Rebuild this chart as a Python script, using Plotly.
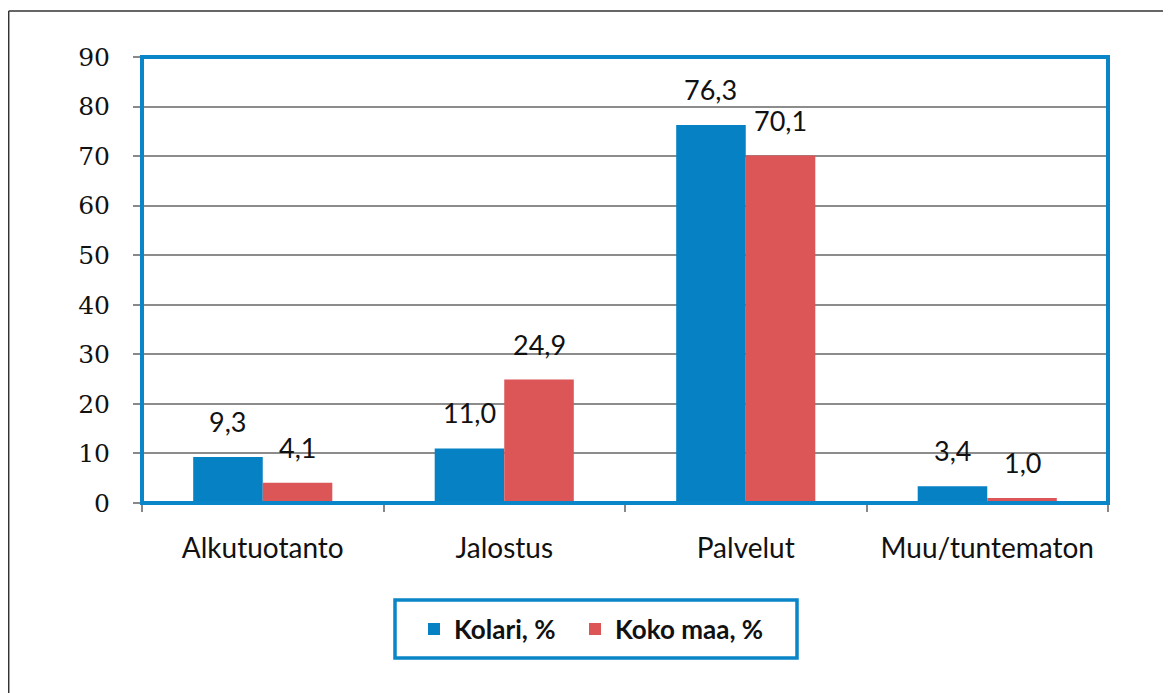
import plotly.graph_objects as go

categories = ['Alkutuotanto', 'Jalostus', 'Palvelut', 'Muu/tuntematon']
kolari = [9.3, 11.0, 76.3, 3.4]
koko_maa = [4.1, 24.9, 70.1, 1.0]
series_names = ['Kolari, %', 'Koko maa, %']

BLUE = '#0681c3'
RED = '#dc5557'
FRAME = '#0a86c8'

# the page adds an 8px body margin, so the figure is drawn 8px smaller
W, H = 1163, 685
L, T = 134, 49
PW, PH = 966, 446


def px(x):
    return (x - 8 - L) / PW


def py(y):
    return (T + PH - (y - 8)) / PH


fig = go.Figure()
fig.add_trace(go.Bar(x=categories, y=kolari, name=series_names[0],
                     marker_color=BLUE, marker_line_width=0,
                     legend='legend'))
fig.add_trace(go.Bar(x=categories, y=koko_maa, name=series_names[1],
                     marker_color=RED, marker_line_width=0,
                     legend='legend2'))

# value labels above bars, offset to each bar of the group
for vals, shift in ((kolari, -35), (koko_maa, 35)):
    for cat, v in zip(categories, vals):
        fig.add_annotation(
            x=cat, y=v, xref='x', yref='y', text=f"{v:.1f}".replace('.', ','),
            showarrow=False, xshift=shift, yanchor='bottom', yshift=17,
            font={'family': 'Lato', 'size': 27, 'color': '#111111'},
        )

# outer frame (top and left edge of the picture)
fig.add_shape(type='line', xref='paper', yref='paper',
              x0=px(8.7), x1=px(1180), y0=py(11), y1=py(11),
              line={'color': '#333333', 'width': 1.5})
fig.add_shape(type='line', xref='paper', yref='paper',
              x0=px(8.7), x1=px(8.7), y0=py(11), y1=py(700),
              line={'color': '#333333', 'width': 1.5})
# blue plot-area border
fig.add_shape(type='rect', xref='paper', yref='paper',
              x0=0, x1=1, y0=0, y1=1, layer='above',
              line={'color': FRAME, 'width': 4})
# legend box
fig.add_shape(type='rect', xref='paper', yref='paper',
              x0=px(395), x1=px(797), y0=py(658), y1=py(600),
              line={'color': FRAME, 'width': 3.5})

legend_style = {
    'orientation': 'h', 'xanchor': 'left',
    'y': py(629), 'yanchor': 'middle',
    'bgcolor': 'rgba(0,0,0,0)', 'borderwidth': 0,
    'font': {'family': 'Lato', 'size': 26, 'color': '#111111',
             'weight': 'bold'},
    'itemwidth': 30,
}

fig.update_layout(
    width=W, height=H,
    margin={'l': L, 'r': W - L - PW, 't': T, 'b': H - T - PH},
    paper_bgcolor='white', plot_bgcolor='white',
    barmode='group', bargap=0.424, bargroupgap=0,
    showlegend=True,
    legend={**legend_style, 'x': px(414)},
    legend2={**legend_style, 'x': px(575)},
    xaxis={
        'type': 'category', 'tickson': 'boundaries', 'ticks': 'outside',
        'ticklen': 8, 'tickcolor': '#888888', 'tickwidth': 1.5,
        'showgrid': False, 'ticklabelstandoff': 20,
        'tickfont': {'family': 'Lato', 'size': 28, 'color': '#111111'},
        'showline': True, 'linecolor': '#888888', 'linewidth': 1,
    },
    yaxis={
        'range': [0, 90], 'dtick': 10, 'ticks': 'outside',
        'ticklen': 8, 'tickcolor': '#888888', 'tickwidth': 1.5,
        'gridcolor': '#8c8c8c', 'gridwidth': 1.5, 'zeroline': False,
        'ticklabelstandoff': 18,
        'tickfont': {'family': 'DejaVu Serif', 'size': 25,
                     'color': '#111111'},
        'showline': True, 'linecolor': '#888888', 'linewidth': 1,
    },
)

fig.write_html('out.html')
